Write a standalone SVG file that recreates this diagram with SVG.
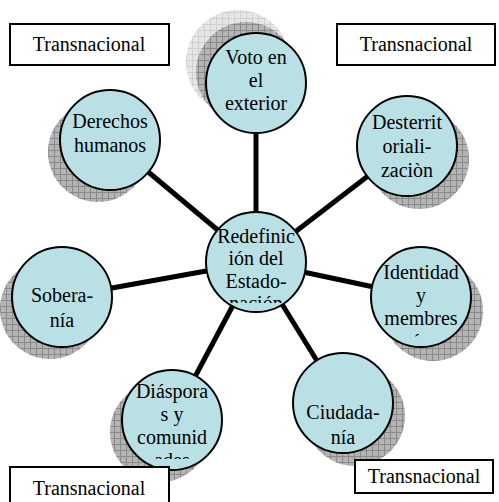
<svg xmlns="http://www.w3.org/2000/svg" width="499" height="502" viewBox="0 0 499 502">
<defs>
<pattern id="hatch" width="6" height="6" patternUnits="userSpaceOnUse">
<rect width="6" height="6" fill="#b4b4b4"/>
<path d="M0 0.5H6M0.5 0V6" stroke="#8a8a8a" stroke-width="1"/>
</pattern>
<pattern id="hatchL" width="6" height="6" patternUnits="userSpaceOnUse">
<rect width="6" height="6" fill="#e6e6e6"/>
<path d="M0 0.5H6M0.5 0V6" stroke="#d0d0d0" stroke-width="1"/>
</pattern>
<clipPath id="c0"><rect x="200" y="215" width="120" height="88"/></clipPath>
<clipPath id="c3"><rect x="365" y="250" width="120" height="88"/></clipPath>
<clipPath id="c5"><rect x="115" y="370" width="120" height="89"/></clipPath>
</defs>
<style>
.node{fill:#b9e1e5;stroke:#000;stroke-width:2}
.sh{fill:url(#hatch)}
.shl{fill:url(#hatchL)}
.t{font-family:"Liberation Serif","Times New Roman",serif;font-size:20px;fill:#000;text-anchor:middle}
.box{fill:#fff;stroke:#000;stroke-width:2}
.con{stroke:#000;stroke-width:5;fill:none}
</style>
<g id="connectors">
<line class="con" x1="256" y1="262" x2="256" y2="83"/>
<line class="con" x1="256" y1="262" x2="407" y2="146"/>
<line class="con" x1="256" y1="262" x2="421" y2="297"/>
<line class="con" x1="256" y1="262" x2="343" y2="403"/>
<line class="con" x1="256" y1="262" x2="172" y2="420"/>
<line class="con" x1="256" y1="262" x2="62" y2="297"/>
<line class="con" x1="256" y1="262" x2="110" y2="140"/>
</g>
<g id="box-tl"><rect class="box" x="10" y="24" width="159" height="41"/><text class="t" x="89" y="51">Transnacional</text></g>
<g id="box-tr"><rect class="box" x="337" y="24" width="158" height="41"/><text class="t" x="416" y="51">Transnacional</text></g>
<g id="node-voto">
<circle class="shl" cx="238" cy="62" r="52"/>
<circle class="sh" cx="246" cy="72" r="50"/>
<circle class="node" cx="256" cy="83" r="50"/>
<text class="t" x="256" y="64">Voto en</text><text class="t" x="256" y="87">el</text><text class="t" x="256" y="110">exterior</text>
</g>
<g id="node-desterrit">
<circle class="sh" cx="419" cy="159" r="50"/>
<circle class="node" cx="407" cy="146" r="50"/>
<text class="t" x="407" y="129">Desterrit</text><text class="t" x="407" y="153">oriali-</text><text class="t" x="407" y="177">zaciòn</text>
</g>
<g id="node-derechos">
<circle class="sh" cx="98" cy="152" r="50"/>
<circle class="node" cx="110" cy="140" r="50"/>
<text class="t" x="110" y="128">Derechos</text><text class="t" x="110" y="152">humanos</text>
</g>
<g id="node-soberania">
<circle class="sh" cx="50" cy="309" r="50"/>
<circle class="node" cx="62" cy="297" r="50"/>
<text class="t" x="62" y="302">Sobera-</text><text class="t" x="62" y="327">nía</text>
</g>
<g id="node-identidad">
<circle class="sh" cx="433" cy="311" r="50"/>
<circle class="node" cx="421" cy="297" r="50"/>
<g clip-path="url(#c3)"><text class="t" x="421" y="279">Identidad</text><text class="t" x="421" y="302">y</text><text class="t" x="421" y="325">membres</text><text class="t" x="421" y="348">ía</text></g>
</g>
<g id="node-ciudadania">
<circle class="sh" cx="355" cy="416" r="50"/>
<circle class="node" cx="343" cy="403" r="50"/>
<text class="t" x="343" y="419">Ciudada-</text><text class="t" x="343" y="444">nía</text>
</g>
<g id="node-diasporas">
<circle class="sh" cx="160" cy="432" r="50"/>
<circle class="node" cx="172" cy="420" r="50"/>
<g clip-path="url(#c5)"><text class="t" x="172" y="398">Diáspora</text><text class="t" x="172" y="421">s y</text><text class="t" x="172" y="444">comunid</text><text class="t" x="172" y="467">ades</text></g>
</g>
<g id="node-center">
<circle class="node" cx="256" cy="262" r="50"/>
<g clip-path="url(#c0)"><text class="t" x="256" y="243">Redefinic</text><text class="t" x="256" y="265">ión del</text><text class="t" x="256" y="288">Estado-</text><text class="t" x="256" y="310">nación</text></g>
</g>
<g id="box-bl"><rect class="box" x="10" y="467" width="159" height="40"/><text class="t" x="89" y="495">Transnacional</text></g>
<g id="box-br"><rect class="box" x="355" y="460" width="138" height="33"/><text class="t" x="424" y="483">Transnacional</text></g>
</svg>
